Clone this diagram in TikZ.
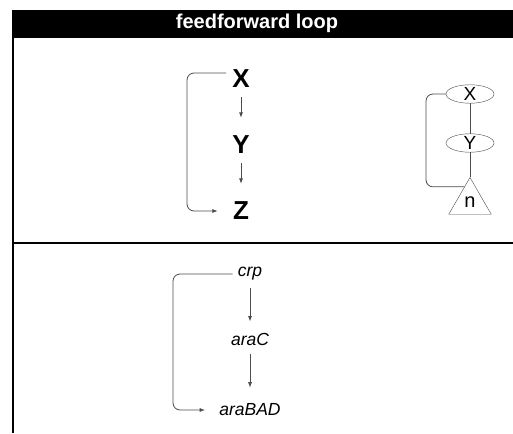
\documentclass[tikz,border=0pt]{standalone}
\usepackage{fontspec}
\setmainfont{Liberation Sans}
\usetikzlibrary{calc,positioning,shapes.geometric,arrows.meta}

\begin{document}
\begin{tikzpicture}[x=1pt,y=-1pt,
	big/.style={font=\fontsize{26}{30}\selectfont\bfseries,inner sep=6pt},
	gene/.style={font=\fontsize{17.5}{20}\selectfont\itshape,inner sep=5pt},
	ell/.style={draw=black!70,ellipse,minimum width=48pt,minimum height=16pt,inner sep=0pt,font=\fontsize{19}{21}\selectfont},
	tri/.style={draw=black!70,regular polygon,regular polygon sides=3,minimum size=49pt,inner sep=0pt,font=\fontsize{20}{22}\selectfont},
	edge/.style={draw=black!70,line width=0.8pt},
	act/.style={edge,-{Latex[length=5.5pt,width=4pt]}},
	loopline/.style={edge,rounded corners=7pt}]
					\useasboundingbox (0,0) rectangle (513,433);
					%FRAME
					\fill (12,10) rectangle (513,38);
					\node[white,font=\fontsize{20}{22}\selectfont\bfseries] (title) at (257,23) {feedforward loop};
					\draw[line width=2pt] (12.5,10) -- (12.5,433);
					\draw[line width=2pt] (12,243) -- (513,243);
					%X -> Y -> Z
					\node[big] (X) at (241,79) {X};
					\node[big] (Y) at (241,145) {Y};
					\node[big] (Z) at (241,211) {Z};
					\draw[act,shorten <=3pt,shorten >=12pt] (X) -- (Y);
					\draw[act,shorten <=3pt,shorten >=12pt] (Y) -- (Z);
					\coordinate (lx) at (187,140);
					\draw[loopline,act,shorten >=9pt] ($(X.west)+(0,-6)$) -| (lx) |- (Z.west);
					%motif
					\node[ell] (x) at (470,94) {X};
					\node[ell] (y) at (470,143) {Y};
					\node[tri] (n) at (470,202) {n};
					\draw[edge] (x) -- (y);
					\draw[edge] (y) -- (n.corner 1);
					\coordinate (rx) at (426,140);
					\draw[loopline] (x.west) -| (rx) |- ($(n.corner 1)!0.26!(n.corner 2)$);
					%crp -> araC -> araBAD
					\node[gene] (crp) at (250,274) {crp};
					\node[gene] (araC) at (250,339) {araC};
					\node[gene] (araBAD) at (250,410) {araBAD};
					\draw[act,shorten <=2pt,shorten >=6pt] (crp) -- (araC);
					\draw[act,shorten <=4pt,shorten >=11pt] (araC) -- (araBAD);
					\coordinate (bx) at (173,340);
					\draw[loopline,act,shorten >=9pt] (crp.west) -| (bx) |- (araBAD.west);
\end{tikzpicture}
\end{document}
